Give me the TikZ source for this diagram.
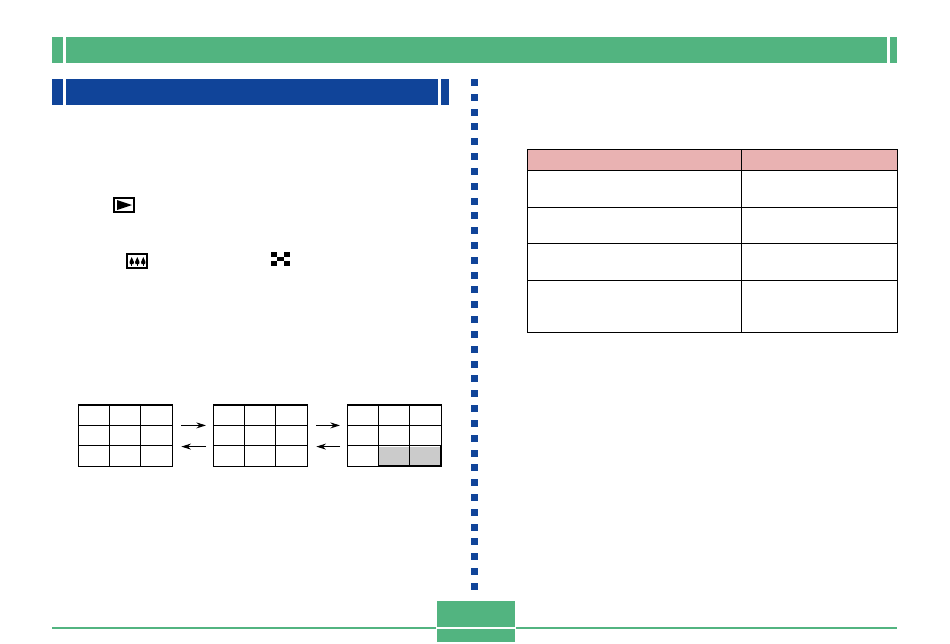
\documentclass[tikz,border=0pt]{standalone}
\usetikzlibrary{arrows.meta}
\definecolor{bargreen}{HTML}{52B480}
\definecolor{barblue}{HTML}{104499}
\definecolor{headpink}{HTML}{E9B2B2}
\definecolor{cellgray}{HTML}{CBCBCB}
\begin{document}
\begin{tikzpicture}[x=.02cm, y=-.02cm,
  cell/.style = {rectangle,draw,line width=.6pt,inner sep=0pt,outer sep=0pt,minimum width=.6267cm,minimum height=.408cm},
  flow/.style = {line width=.6pt,-{Stealth[length=5.5pt,width=3.4pt]}},
  rule/.style = {line width=.65pt}]

\useasboundingbox (0,0) rectangle (950,643);

% title bars
\fill[bargreen] (52,37) rectangle (63,63);
\fill[bargreen] (66,37) rectangle (887,63);
\fill[bargreen] (890,37) rectangle (897,63);

\fill[barblue] (52,79) rectangle (63,105);
\fill[barblue] (66,79) rectangle (438,105);
\fill[barblue] (441,79) rectangle (449,105);

% dotted divider
\foreach \i in {0,...,34}
  \fill[barblue] (471,{79+\i*14.82}) rectangle (478,{86+\i*14.82});

% page number box
\fill[bargreen] (437,601) rectangle (515,627);
\fill[bargreen] (437,629) rectangle (515,642);
\fill[bargreen] (52,627) rectangle (436,629);
\fill[bargreen] (516,627) rectangle (897,629);

% play icon
\draw[line width=1.1pt] (114.3,198.3) rectangle (133.7,211.7);
\fill (117,200) -- (132,205) -- (117,210) -- cycle;

% tree icon
\draw[line width=1.1pt] (127,253.7) rectangle (146.7,267.7);
\foreach \tx in {131.7,137.3,143.3} {
  \fill (\tx,257) -- (\tx+2.2,262) -- (\tx+1.8,264) -- (\tx-1.8,264) -- (\tx-2.2,262) -- cycle;
  \draw[line width=.5pt] (\tx,263) -- (\tx,265.5);
}

% checker icon
\foreach \cx/\cy in {0/0,2/0,1/1,0/2,2/2}
  \fill ({271+\cx*6.33},{251.7+\cy*4.8}) rectangle ({271+(\cx+1)*6.33},{251.7+(\cy+1)*4.8});

% grids
\fill[cellgray] (378.5,446.6) rectangle (440.7,466);
\foreach \g/\gx in {a/78.3,b/213.3,c/347.3}
  \foreach \r in {1,2,3}
    \foreach \c in {1,2,3}
      \node[cell] (\g\r\c) at ({\gx+(\c-.5)*31.33},{405+(\r-.5)*20.4}) {};
\draw[line width=1.1pt] (c32.south west) -- (c33.south east) -- (c33.north east);

\draw[flow,shorten <=9*.02cm] (a13.south east) -- ([xshift=-7.3*.02cm]b11.south west);
\draw[flow,shorten <=7.3*.02cm] ([yshift=-.8*.02cm]b21.south west) -- ([xshift=9*.02cm,yshift=-.8*.02cm]a23.south east);
\draw[flow,shorten <=9*.02cm] (b13.south east) -- ([xshift=-7.3*.02cm]c11.south west);
\draw[flow,shorten <=7.3*.02cm] ([yshift=-.8*.02cm]c21.south west) -- ([xshift=9*.02cm,yshift=-.8*.02cm]b23.south east);

% table
\fill[headpink] (527.3,149.3) rectangle (897.3,170.3);
\draw[rule] (527.3,149.3) rectangle (897.3,332.3);
\draw[rule] (741.3,149.3) -- (741.3,332.3);
\foreach \ty in {170.3,207.3,243.3,280.3}
  \draw[rule] (527.3,\ty) -- (897.3,\ty);

\end{tikzpicture}
\end{document}
